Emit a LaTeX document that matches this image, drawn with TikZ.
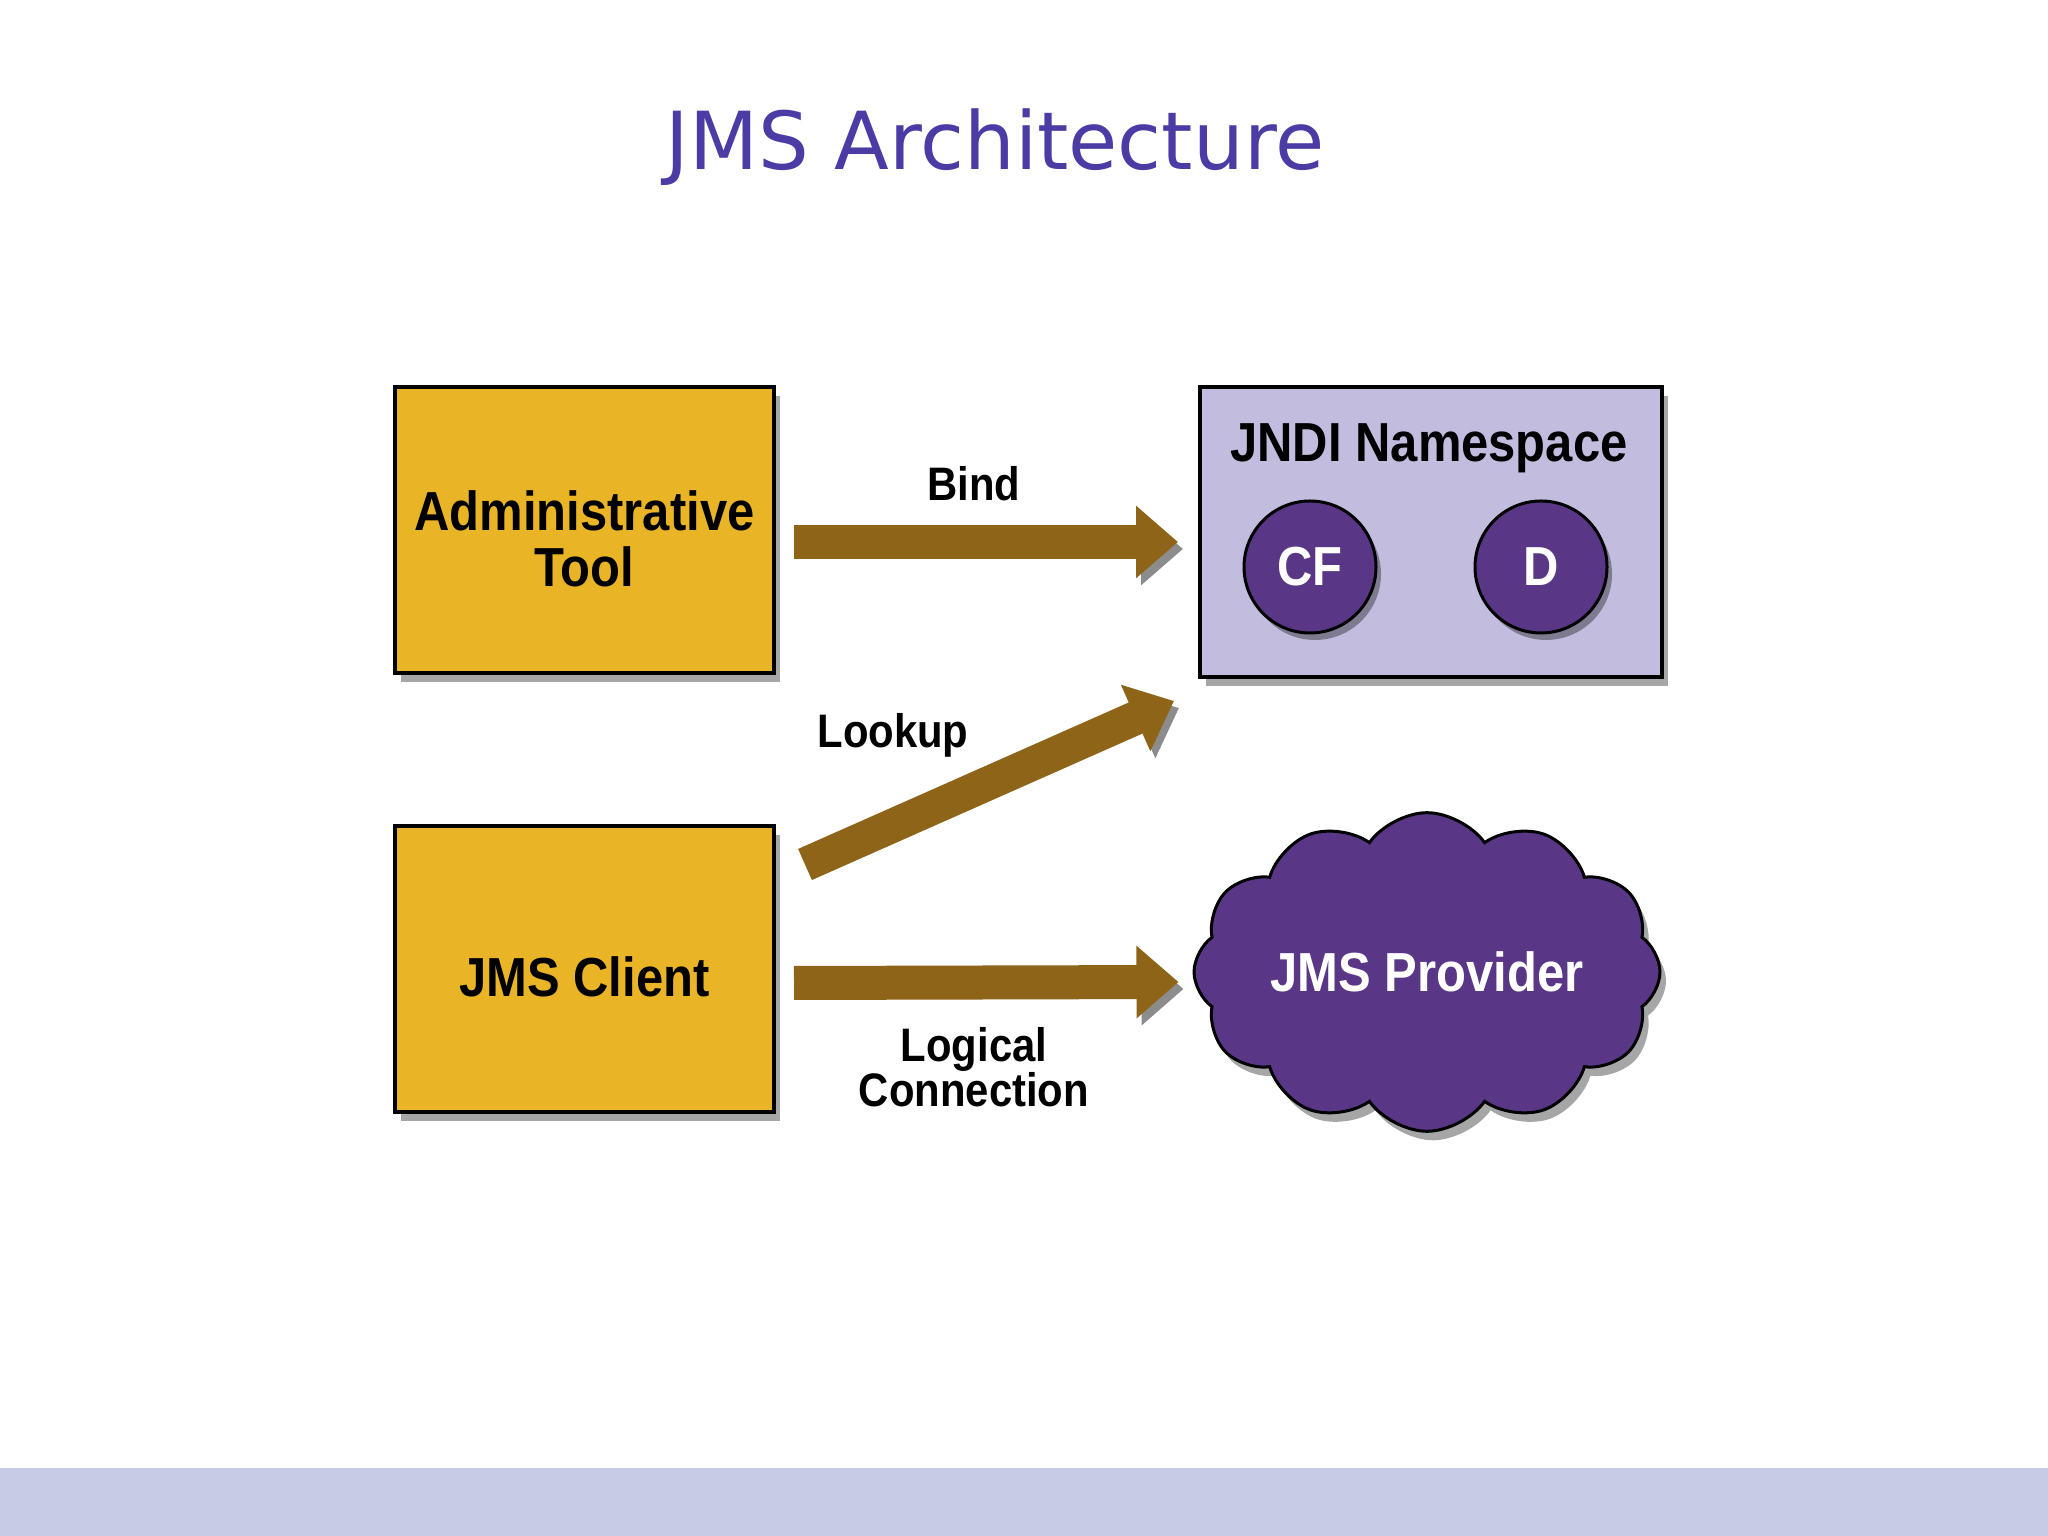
\documentclass[tikz,border=0pt]{standalone}
\usepackage{fontspec}
\usetikzlibrary{arrows.meta, positioning, shapes.symbols, shadows}
\newfontfamily\labelfont[FakeStretch=0.89]{Liberation Sans}
\newfontfamily\titlefont{DejaVu Sans}
\definecolor{ToolGold}{HTML}{E9B526}
\definecolor{ArrowBrown}{HTML}{8E6418}
\definecolor{NsLilac}{HTML}{C2BDDE}
\definecolor{ProvPurple}{HTML}{5A3786}
\definecolor{TitleIndigo}{HTML}{4A3CA4}
\definecolor{BandBlue}{HTML}{C8CBE5}

\begin{document}
\begin{tikzpicture}[x=1pt, y=1pt,
    boxtext/.style={inner sep=0pt, align=center, font=\labelfont\bfseries\fontsize{55}{56}\selectfont},
    box/.style={draw=black, line width=4pt, fill=ToolGold, minimum width=379pt, minimum height=286pt,
        drop shadow={shadow xshift=6pt, shadow yshift=-9pt, fill=black, opacity=0.35}},
    nsbox/.style={box, fill=NsLilac, minimum width=462pt, minimum height=290pt},
    objcircle/.style={circle, draw=black, line width=3pt, fill=ProvPurple, minimum size=132pt, text=white,
        font=\labelfont\bfseries\fontsize{55}{55}\selectfont,
        drop shadow={shadow xshift=5pt, shadow yshift=-7pt, fill=black, opacity=0.35}},
    provider/.style={cloud, cloud puffs=12, cloud puff arc=110, aspect=1.65, draw=black, line width=3pt,
        inner sep=0pt, fill=ProvPurple, minimum width=466pt, minimum height=300pt, text=white,
        font=\labelfont\bfseries\fontsize{55}{55}\selectfont,
        drop shadow={shadow xshift=6pt, shadow yshift=-9pt, fill=black, opacity=0.35}},
    arrowlabel/.style={inner sep=0pt, align=center, font=\labelfont\bfseries\fontsize{47}{45}\selectfont},
    flowarrow/.style={line width=34pt, draw=ArrowBrown, -{Triangle[length=42pt, width=70pt]},
        preaction={draw=black!45, transform canvas={xshift=5pt, yshift=-7pt}}}]

    % Page and footer band
    \fill[white] (0,0) rectangle (2048,1536);
    \fill[BandBlue] (0,0) rectangle (2048,68);
    \useasboundingbox (0,0) rectangle (2048,1536);

    % Title
    \node[font=\titlefont\fontsize{80}{96}\selectfont, text=TitleIndigo, anchor=base] (title) at (995,1366) {JMS Architecture};

    % Left column
    \node[box, label={[boxtext, yshift=-9pt]center:Administrative\\Tool}] (admin) at (584.5,1006) {};
    \node[box, label={[boxtext, yshift=-7pt]center:JMS Client}] (client) at (584.5,566.5) {};

    % JNDI namespace with its objects
    \node[nsbox] (jndi) at (1431,1004) {};
    \node[boxtext, anchor=base] (jndititle) at (1429,1074) {JNDI Namespace};
    \node[objcircle] (cf) at (1310,969) {CF};
    \node[objcircle] (dest) at (1541,969) {D};

    % Provider cloud
    \node[provider] (provider) at (1427,564) {JMS Provider};

    % Arrows
    \draw[flowarrow] ([xshift=18pt, yshift=-12pt]admin.east) -- ([xshift=-20pt, yshift=-10pt]jndi.west);
    \draw[flowarrow] ([xshift=29pt, yshift=-40pt]client.north east) -- ([xshift=-24pt, yshift=-22pt]jndi.south west);
    \draw[flowarrow] ([xshift=18pt, yshift=-13.5pt]client.east) -- ([xshift=-14pt, yshift=-10pt]provider.west);

    % Arrow labels
    \node[arrowlabel, anchor=base] (bindlbl) at (974,1035) {Bind};
    \node[arrowlabel, anchor=base] (lookuplbl) at (893,788) {Lookup};
    \node[arrowlabel] (connlbl) at (974,468.5) {Logical\\Connection};
\end{tikzpicture}
\end{document}
